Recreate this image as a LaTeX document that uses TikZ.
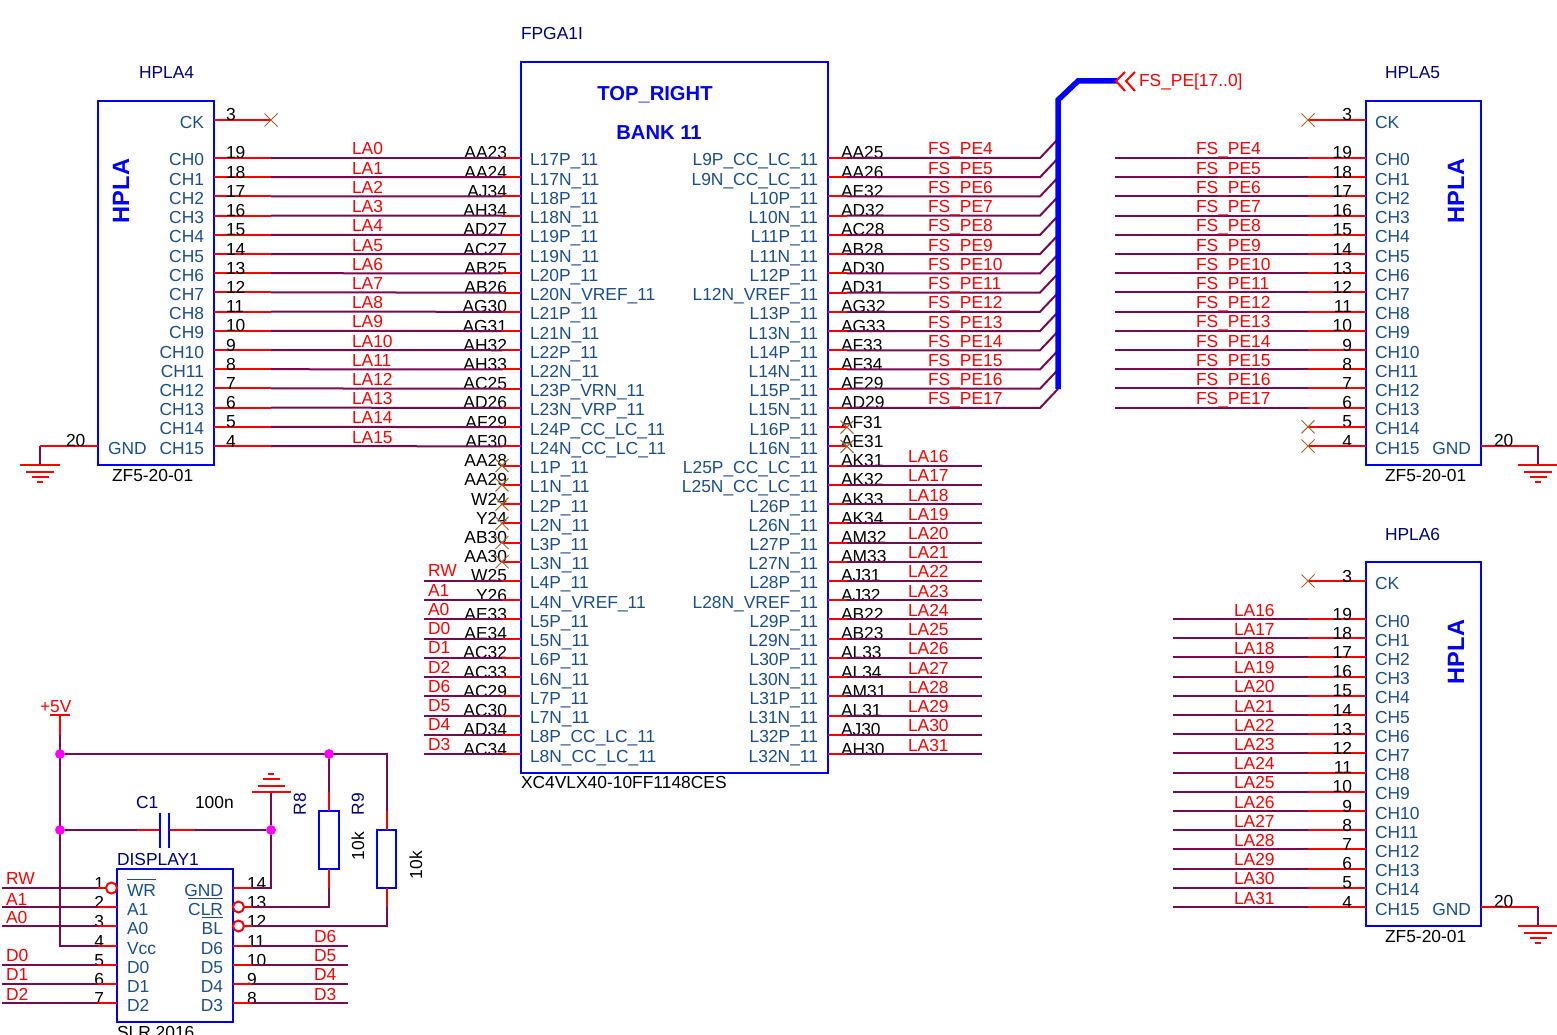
\documentclass[tikz,border=0pt]{standalone}
\usepackage{fontspec}
\setmainfont{Liberation Sans}
\definecolor{wirec}{HTML}{7A0A4F}
\definecolor{pinc}{HTML}{FF0000}
\definecolor{boxc}{HTML}{0000FF}
\definecolor{labc}{HTML}{1A4F8C}
\definecolor{titc}{HTML}{000080}
\definecolor{xc}{HTML}{A5652A}
\definecolor{dotc}{HTML}{FF00FF}
\newcommand{\ovl}[1]{$\overline{\hbox{\rule{0pt}{15.5pt}#1}}$}
\tikzset{
  txt/.style={font=\fontsize{17.4}{20}\selectfont,inner sep=0pt,outer sep=0pt},
  numw/.style={txt,anchor=base west,black},
  nume/.style={txt,anchor=base east,black},
  lablw/.style={txt,anchor=base west,labc},
  lable/.style={txt,anchor=base east,labc},
  netl/.style={txt,anchor=base west,pinc},
  titl/.style={txt,anchor=base west,titc},
  blk/.style={txt,anchor=base west,black},
  bigb/.style={inner sep=0pt,outer sep=0pt,text=boxc,font=\fontsize{20.2}{24}\selectfont\bfseries},
  bigv/.style={inner sep=0pt,outer sep=0pt,text=boxc,font=\fontsize{23.6}{26}\selectfont\bfseries},
  pinl/.style={draw=pinc,line width=2pt},
  wirel/.style={draw=wirec,line width=2pt},
  boxl/.style={draw=boxc,line width=2.6pt,inner sep=0pt,outer sep=0pt,fill=white},
  xmk/.style={draw=xc,line width=1pt},
  dotn/.style={circle,fill=dotc,inner sep=0pt,minimum size=9.5pt},
  bub/.style={circle,draw=pinc,line width=2pt,fill=white,inner sep=0pt,minimum size=11pt},
  gndl/.style={draw=pinc,line width=2pt},
}
% X mark at a named coordinate
\newcommand{\xat}[1]{\draw[xmk] ([shift={(-6.5pt,-6.5pt)}]#1) -- ([shift={(6.5pt,6.5pt)}]#1) ([shift={(-6.5pt,6.5pt)}]#1) -- ([shift={(6.5pt,-6.5pt)}]#1);}
% ground symbol with widest bar on top at a named coordinate
\newcommand{\gndat}[1]{\draw[gndl] ([shift={(-20pt,0pt)}]#1) -- ([shift={(20pt,0pt)}]#1)
  ([shift={(-14pt,-6.5pt)}]#1) -- ([shift={(14pt,-6.5pt)}]#1)
  ([shift={(-8.5pt,-12pt)}]#1) -- ([shift={(8.5pt,-12pt)}]#1)
  ([shift={(-3pt,-17pt)}]#1) -- ([shift={(3pt,-17pt)}]#1);}
\begin{document}
\begin{tikzpicture}[x=1pt,y=-1pt]
\clip (0,0) rectangle (1557,1035);
\fill[white] (0,0) rectangle (1557,1035);

% ---------- boxes ----------
\node[boxl,minimum width=307pt,minimum height=711pt,anchor=north west] (fpga) at (521,62) {};
\node[boxl,minimum width=116pt,minimum height=364pt,anchor=north west] (h4) at (98,101) {};
\node[boxl,minimum width=115pt,minimum height=364pt,anchor=north west] (h5) at (1366,101) {};
\node[boxl,minimum width=115pt,minimum height=364pt,anchor=north west] (h6) at (1366,562) {};
\node[boxl,minimum width=116pt,minimum height=153pt,anchor=north west] (disp) at (117,869) {};

% ---------- titles ----------
\node[titl] (t1) at (521,40) {FPGA1I};
\node[titl] (t2) at (139,79) {HPLA4};
\node[titl] (t3) at (1385,79) {HPLA5};
\node[titl] (t4) at (1385,540) {HPLA6};
\node[titl] (t5) at (117,865) {DISPLAY1};
\node[bigb] (top) at (655,94.5) {TOP\_RIGHT};
\node[bigb] (bank) at (659,132.5) {BANK 11};
\node[blk] (part) at (521,788) {XC4VLX40-10FF1148CES};
\node[blk] (z4) at (112,481) {ZF5-20-01};
\node[blk] (z5) at (1385,481) {ZF5-20-01};
\node[blk] (z6) at (1385,942) {ZF5-20-01};
\node[blk] (slr) at (117,1038) {SLR 2016};
\node[bigv,rotate=90] (v4) at (121,191) {HPLA};
\node[bigv,rotate=90] (v5) at (1456,191) {HPLA};
\node[bigv,rotate=90] (v6) at (1456,652) {HPLA};

% ---------- FPGA left column ----------
\foreach \lab/\num [count=\i from 0] in {L17P\_11/AA23,L17N\_11/AA24,L18P\_11/AJ34,L18N\_11/AH34,L19P\_11/AD27,L19N\_11/AC27,L20P\_11/AB25,L20N\_VREF\_11/AB26,L21P\_11/AG30,L21N\_11/AG31,L22P\_11/AH32,L22N\_11/AH33,L23P\_VRN\_11/AC25,L23N\_VRP\_11/AD26,L24P\_CC\_LC\_11/AF29,L24N\_CC\_LC\_11/AF30,L1P\_11/AA28,L1N\_11/AA29,L2P\_11/W24,L2N\_11/Y24,L3P\_11/AB30,L3N\_11/AA30,L4P\_11/W25,L4N\_VREF\_11/Y26,L5P\_11/AE33,L5N\_11/AE34,L6P\_11/AC32,L6N\_11/AC33,L7P\_11/AC29,L7N\_11/AC30,L8P\_CC\_LC\_11/AD34,L8N\_CC\_LC\_11/AC34}{
  \pgfmathsetmacro{\yy}{158+19.226*\i}
  \coordinate (fl\i) at (521,\yy);
  \coordinate (fls\i) at (502,\yy);
  \node[lablw] (fllab\i) at (530,\yy+8) {\lab};
  \node[nume] (flnum\i) at (507,\yy+1) {\num};
}
% ---------- FPGA right column ----------
\foreach \lab/\num [count=\i from 0] in {L9P\_CC\_LC\_11/AA25,L9N\_CC\_LC\_11/AA26,L10P\_11/AE32,L10N\_11/AD32,L11P\_11/AC28,L11N\_11/AB28,L12P\_11/AD30,L12N\_VREF\_11/AD31,L13P\_11/AG32,L13N\_11/AG33,L14P\_11/AF33,L14N\_11/AF34,L15P\_11/AE29,L15N\_11/AD29,L16P\_11/AF31,L16N\_11/AE31,L25P\_CC\_LC\_11/AK31,L25N\_CC\_LC\_11/AK32,L26P\_11/AK33,L26N\_11/AK34,L27P\_11/AM32,L27N\_11/AM33,L28P\_11/AJ31,L28N\_VREF\_11/AJ32,L29P\_11/AB22,L29N\_11/AB23,L30P\_11/AL33,L30N\_11/AL34,L31P\_11/AM31,L31N\_11/AL31,L32P\_11/AJ30,L32N\_11/AH30}{
  \pgfmathsetmacro{\yy}{158+19.226*\i}
  \coordinate (fr\i) at (828,\yy);
  \coordinate (frs\i) at (847,\yy);
  \node[lable] (frlab\i) at (818,\yy+8) {\lab};
  \node[numw] (frnum\i) at (841,\yy+1) {\num};
}

% ---------- HPLA4 to FPGA ----------
\foreach \n [count=\i from 0] in {19,18,17,16,15,14,13,12,11,10,9,8,7,6,5,4}{
  \pgfmathsetmacro{\yy}{158+19.2*\i}
  \pgfmathtruncatemacro{\la}{\i}
  \coordinate (a\i) at (214,\yy);
  \coordinate (as\i) at (271,\yy);
  \draw[wirel] (as\i) -- (fls\i);
  \draw[pinl] (a\i) -- (as\i);
  \draw[pinl] (fls\i) -- (fl\i);
  \node[numw] (an\i) at (226,\yy+1) {\n};
  \node[lable] (al\i) at (204,\yy+8) {CH\i};
  \node[netl] (aw\i) at (352,\yy-3) {LA\la};
}
% ---------- FS_PE wires and HPLA5 ----------
\coordinate (busa) at (1058,389);
\coordinate (busb) at (1058,100);
\coordinate (busc) at (1078,81);
\coordinate (busd) at (1117,81);
\foreach \n/\pe [count=\i from 0] in {19/4,18/5,17/6,16/7,15/8,14/9,13/10,12/11,11/12,10/13,9/14,8/15,7/16,6/17}{
  \pgfmathsetmacro{\yy}{158+19.226*\i}
  \pgfmathsetmacro{\yb}{\yy-19}
  \pgfmathsetmacro{\yh}{158+19.2*\i}
  \coordinate (be\i) at (1040,\yy);
  \coordinate (bt\i) at (1058,\yb);
  \draw[wirel] (frs\i) -- (be\i) -- (bt\i);
  \draw[pinl] (fr\i) -- (frs\i);
  \node[netl] (bl\i) at (928,\yy-3) {FS\_PE\pe};
  \coordinate (c\i) at (1366,\yh);
  \coordinate (cs\i) at (1308,\yh);
  \coordinate (cw\i) at (1115,\yh);
  \draw[wirel] (cw\i) -- (cs\i);
  \draw[pinl] (cs\i) -- (c\i);
  \node[netl] (cl\i) at (1196,\yh-3) {FS\_PE\pe};
}
\draw[draw=boxc,line width=5.5pt,line join=miter] (busa) -- (busb) -- (busc) -- (busd);
\coordinate (pa) at (1125,72); \coordinate (pb) at (1116,81); \coordinate (pc) at (1125,91);
\coordinate (qa) at (1135,72); \coordinate (qb) at (1126,81); \coordinate (qc) at (1135,91);
\draw[pinl] (pa) -- (pb) -- (pc) (qa) -- (qb) -- (qc);
\node[netl] (fsbus) at (1139,87) {FS\_PE[17..0]};

% HPLA5 labels
\foreach \n [count=\i from 0] in {19,18,17,16,15,14,13,12,11,10,9,8,7,6,5,4}{
  \pgfmathsetmacro{\yh}{158+19.2*\i}
  \node[nume] (cn\i) at (1352,\yh+1) {\n};
  \node[lablw] (ct\i) at (1375,\yh+8) {CH\i};
}
\foreach \i in {14,15}{
  \pgfmathsetmacro{\yh}{158+19.2*\i}
  \coordinate (c\i) at (1366,\yh);
  \coordinate (cs\i) at (1308,\yh);
  \draw[pinl] (cs\i) -- (c\i);
  \xat{cs\i}
}

% ---------- LA16..31 and HPLA6 ----------
\foreach \n [count=\i from 0] in {19,18,17,16,15,14,13,12,11,10,9,8,7,6,5,4}{
  \pgfmathtruncatemacro{\r}{\i+16}
  \pgfmathsetmacro{\yy}{158+19.226*\r}
  \pgfmathsetmacro{\yh}{619+19.2*\i}
  \coordinate (de\i) at (982,\yy);
  \draw[wirel] (frs\r) -- (de\i);
  \draw[pinl] (fr\r) -- (frs\r);
  \node[netl] (dl\i) at (908,\yy-3) {LA\r};
  \coordinate (e\i) at (1366,\yh);
  \coordinate (es\i) at (1308,\yh);
  \coordinate (ew\i) at (1173,\yh);
  \draw[wirel] (ew\i) -- (es\i);
  \draw[pinl] (es\i) -- (e\i);
  \node[nume] (en\i) at (1352,\yh+1) {\n};
  \node[lablw] (et\i) at (1375,\yh+8) {CH\i};
  \node[netl] (el\i) at (1234,\yh-3) {LA\r};
}

% ---------- unconnected FPGA pins ----------
\foreach \i in {16,...,21}{
  \draw[pinl] (fls\i) -- (fl\i);
  \xat{fls\i}
}
\foreach \i in {14,15}{
  \draw[pinl] (fr\i) -- (frs\i);
  \xat{frs\i}
}

% ---------- FPGA lower-left nets ----------
\foreach \t [count=\j from 22] in {RW,A1,A0,D0,D1,D2,D6,D5,D4,D3}{
  \pgfmathsetmacro{\yy}{158+19.226*\j}
  \coordinate (gw\j) at (424,\yy);
  \draw[wirel] (gw\j) -- (fls\j);
  \draw[pinl] (fls\j) -- (fl\j);
  \node[netl] (gl\j) at (428,\yy-4) {\t};
}

% ---------- CK pins ----------
\coordinate (ck4) at (214,120); \coordinate (ck4x) at (271,120);
\draw[pinl] (ck4) -- (ck4x); \xat{ck4x}
\node[numw] (ck4n) at (226,121) {3};
\node[lable] (ck4t) at (204,129) {CK};
\coordinate (ck5) at (1366,120); \coordinate (ck5x) at (1308,120);
\draw[pinl] (ck5x) -- (ck5); \xat{ck5x}
\node[nume] (ck5n) at (1352,121) {3};
\node[lablw] (ck5t) at (1375,129) {CK};
\coordinate (ck6) at (1366,581); \coordinate (ck6x) at (1308,581);
\draw[pinl] (ck6x) -- (ck6); \xat{ck6x}
\node[nume] (ck6n) at (1352,582) {3};
\node[lablw] (ck6t) at (1375,589) {CK};

% ---------- GND pins ----------
\coordinate (g4a) at (98,446); \coordinate (g4b) at (40,446); \coordinate (g4c) at (40,465);
\draw[wirel] (g4b) -- (g4c); \draw[pinl] (g4a) -- (g4b); \gndat{g4c}
\node[numw] (g4n) at (66,446.5) {20};
\node[lablw] (g4t) at (108,454) {GND};
\coordinate (g5a) at (1481,446); \coordinate (g5b) at (1538,446); \coordinate (g5c) at (1538,465);
\draw[wirel] (g5b) -- (g5c); \draw[pinl] (g5a) -- (g5b); \gndat{g5c}
\node[numw] (g5n) at (1494,446.5) {20};
\node[lable] (g5t) at (1471,454) {GND};
\coordinate (g6a) at (1481,907); \coordinate (g6b) at (1538,907); \coordinate (g6c) at (1538,926);
\draw[wirel] (g6b) -- (g6c); \draw[pinl] (g6a) -- (g6b); \gndat{g6c}
\node[numw] (g6n) at (1494,907.5) {20};
\node[lable] (g6t) at (1471,915) {GND};

% ---------- DISPLAY1 circuit ----------
\coordinate (p5) at (60,715);
\coordinate (p5s) at (60,735);
\draw[pinl] (50,715) -- (70,715);
\node[netl] (v5v) at (40,712) {+5V};
\node[dotn] (j1) at (60,754) {};
\node[dotn] (j2) at (329,754) {};
\node[dotn] (j3) at (60,830) {};
\node[dotn] (j4) at (271,830) {};
\coordinate (r9t) at (386.5,754);
\node[boxl,minimum width=20pt,minimum height=58pt,anchor=north west] (r8) at (319,811) {};
\node[boxl,minimum width=19pt,minimum height=58pt,anchor=north west] (r9) at (377,830) {};
\coordinate (r8ts) at (329,792); \coordinate (r8bs) at (329,888);
\coordinate (r9ts) at (386.5,811); \coordinate (r9bs) at (386.5,907);

% display pin coordinates
\foreach \n/\yy/\t [count=\i from 1] in {1/888/\ovl{WR},2/907/A1,3/926/A0,4/946/Vcc,5/965/D0,6/984/D1,7/1003/D2}{
  \coordinate (dl\i) at (117,\yy);
  \coordinate (dls\i) at (98,\yy);
  \coordinate (dlw\i) at (2,\yy);
  \node[nume] (dln\i) at (104,\yy+1) {\n};
  \node[lablw] (dlt\i) at (127,\yy+8) {\t};
}
\foreach \n/\yy/\t [count=\i from 1] in {14/888/GND,13/907/\ovl{CLR},12/926/\ovl{BL},11/946/D6,10/965/D5,9/984/D4,8/1003/D3}{
  \coordinate (dr\i) at (233,\yy);
  \coordinate (drs\i) at (252,\yy);
  \coordinate (drw\i) at (348,\yy);
  \node[numw] (drn\i) at (247,\yy+1) {\n};
  \node[lable] (drt\i) at (223,\yy+8) {\t};
}
% wires
\draw[wirel] (p5s) -- (dls4 -| p5s) -- (dls4);
\draw[wirel] (j1) -- (r9t) -- (r9ts);
\draw[wirel] (j2) -- (r8ts);
\draw[wirel] (j3) -- (137,830);
\draw[wirel] (195,830) -- (j4);
\coordinate (gt) at (271,792);
\draw[wirel] (gt) -- (j4) -- (drs1 -| j4) -- (drs1);
\draw[wirel] (r8bs) -- (drs2 -| r8bs) -- (drs2);
\draw[wirel] (r9bs) -- (drs3 -| r9bs) -- (drs3);
\foreach \i in {1,2,3,5,6,7}{ \draw[wirel] (dlw\i) -- (dls\i); }
\foreach \i in {4,5,6,7}{ \draw[wirel] (drs\i) -- (drw\i); }
% pins
\foreach \i in {1,...,7}{ \draw[pinl] (dls\i) -- (dl\i); \draw[pinl] (dr\i) -- (drs\i); }
\draw[pinl] (p5) -- (p5s);
\draw[pinl] (r8ts) -- (r8.north);
\draw[pinl] (r8.south) -- (r8bs);
\draw[pinl] (r9ts) -- (r9.north);
\draw[pinl] (r9.south) -- (r9bs);
\draw[pinl] (137,830) -- (160,830);
\draw[pinl] (169,830) -- (195,830);
% capacitor plates
\coordinate (c1a) at (160,813); \coordinate (c1b) at (160,848);
\coordinate (c1c) at (169,813); \coordinate (c1d) at (169,848);
\draw[draw=boxc,line width=2.6pt] (c1a) -- (c1b) (c1c) -- (c1d);
% ground above C1
\draw[gndl] (252,792) -- (291,792) (258,786) -- (285,786) (263,779) -- (280,779) (268,774) -- (274,774);
% bubbles
\node[bub] (b1) at (111.5,888) {};
\node[bub] (b13) at (238.5,907) {};
\node[bub] (b12) at (238.5,926) {};
% redraw junctions on top
\node[dotn] at (j1) {};
\node[dotn] at (j2) {};
\node[dotn] at (j3) {};
\node[dotn] at (j4) {};
% labels
\foreach \t/\yy [count=\i from 1] in {RW/884,A1/905,A0/923,D0/961,D1/980,D2/1000}{
  \node[netl] (nl\i) at (6,\yy) {\t};
}
\foreach \t/\yy [count=\i from 1] in {D6/942,D5/961,D4/980,D3/1000}{
  \node[netl] (nr\i) at (314,\yy) {\t};
}
\node[titl] (c1t) at (136,808) {C1};
\node[blk] (c1v) at (195,808) {100n};
\node[txt,rotate=90,text=titc] (r8t) at (300,804) {R8};
\node[txt,rotate=90,text=titc] (r9tx) at (358,804) {R9};
\node[txt,rotate=90,text=black] (r8v) at (358,846) {10k};
\node[txt,rotate=90,text=black] (r9v) at (416,865) {10k};
\end{tikzpicture}
\end{document}
